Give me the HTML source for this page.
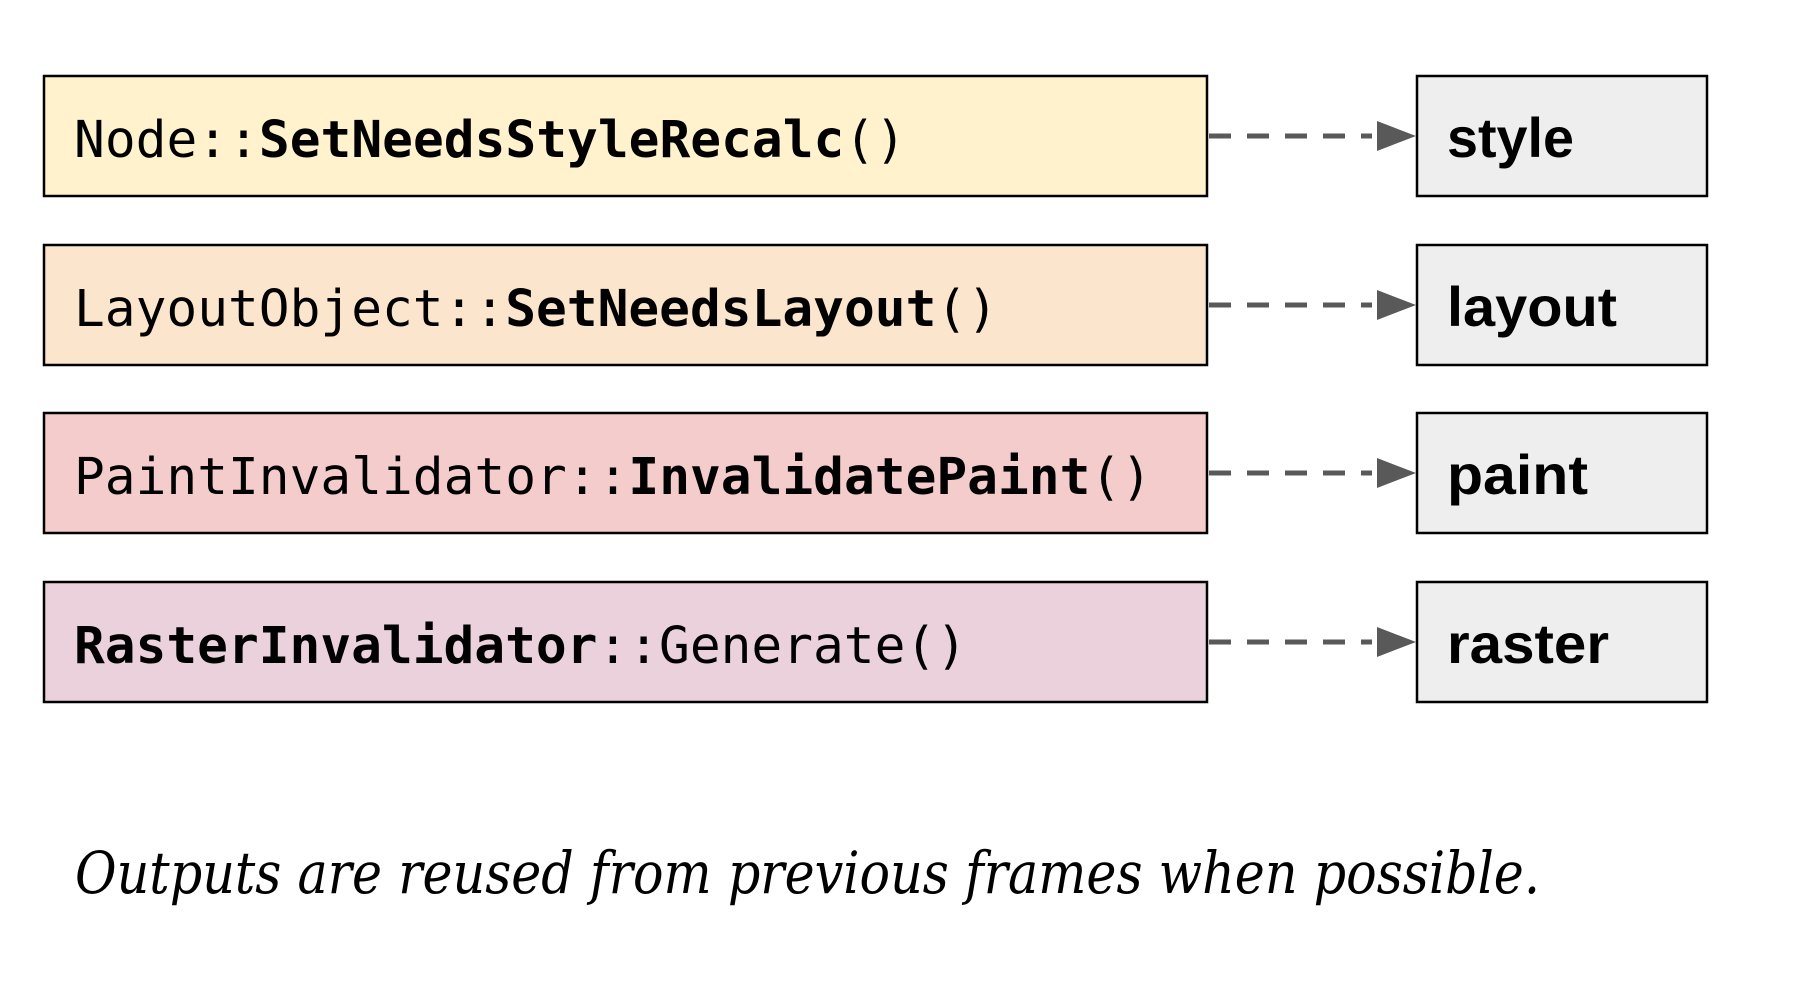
<!DOCTYPE html>
<html><head><meta charset="utf-8"><style>
html,body{margin:0;padding:0;background:#fff;width:1798px;height:988px;overflow:hidden}
.m{font-family:"DejaVu Sans Mono","Liberation Mono",monospace;font-size:51px;fill:#000}
.b{font-weight:bold}
.l{font-family:"Liberation Sans","DejaVu Sans",sans-serif;font-weight:bold;font-size:56px;fill:#000}
.c{font-family:"DejaVu Serif","Liberation Serif",serif;font-style:italic;font-size:58px;fill:#000}
</style></head><body>
<svg width="1798" height="988" viewBox="0 0 1798 988" xmlns="http://www.w3.org/2000/svg">
<g stroke="#000" stroke-width="2.5">
<rect x="44" y="76" width="1163" height="120" fill="#fff2cc"/>
<rect x="44" y="245" width="1163" height="120" fill="#fce5cd"/>
<rect x="44" y="413" width="1163" height="120" fill="#f4cccc"/>
<rect x="44" y="582" width="1163" height="120" fill="#ead1dc"/>
<rect x="1417" y="76" width="290" height="120" fill="#eeeeee"/>
<rect x="1417" y="245" width="290" height="120" fill="#eeeeee"/>
<rect x="1417" y="413" width="290" height="120" fill="#eeeeee"/>
<rect x="1417" y="582" width="290" height="120" fill="#eeeeee"/>
</g>
<g stroke="#595959" stroke-width="5" stroke-dasharray="22,16" fill="none">
<line x1="1209" y1="136" x2="1372" y2="136"/>
<line x1="1209" y1="305" x2="1372" y2="305"/>
<line x1="1209" y1="473" x2="1372" y2="473"/>
<line x1="1209" y1="642" x2="1372" y2="642"/>
</g>
<g fill="#595959">
<polygon points="1377,121 1416,136 1377,151"/>
<polygon points="1377,290 1416,305 1377,320"/>
<polygon points="1377,458 1416,473 1377,488"/>
<polygon points="1377,627 1416,642 1377,657"/>
</g>
<text class="m" x="74" y="157" textLength="832" lengthAdjust="spacingAndGlyphs">Node::<tspan class="b">SetNeedsStyleRecalc</tspan>()</text>
<text class="m" x="74" y="326" textLength="924" lengthAdjust="spacingAndGlyphs">LayoutObject::<tspan class="b">SetNeedsLayout</tspan>()</text>
<text class="m" x="74" y="494" textLength="1078" lengthAdjust="spacingAndGlyphs">PaintInvalidator::<tspan class="b">InvalidatePaint</tspan>()</text>
<text class="m" x="74" y="663" textLength="893" lengthAdjust="spacingAndGlyphs"><tspan class="b">RasterInvalidator</tspan>::Generate()</text>
<text class="l" x="1447" y="157" textLength="127" lengthAdjust="spacingAndGlyphs">style</text>
<text class="l" x="1447" y="326" textLength="170" lengthAdjust="spacingAndGlyphs">layout</text>
<text class="l" x="1447" y="494" textLength="141" lengthAdjust="spacingAndGlyphs">paint</text>
<text class="l" x="1447" y="663" textLength="162" lengthAdjust="spacingAndGlyphs">raster</text>
<text class="c" x="75" y="893" textLength="1465" lengthAdjust="spacingAndGlyphs">Outputs are reused from previous frames when possible.</text>
</svg>
</body></html>
